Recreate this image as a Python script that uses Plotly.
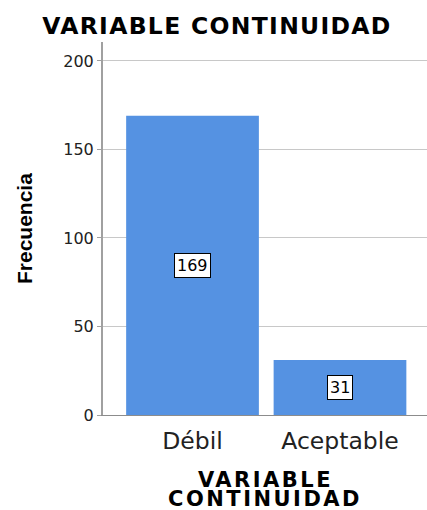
import plotly.graph_objects as go

categories = ["Débil", "Aceptable"]
frecuencias = [169, 31]
y_ticks = [0, 50, 100, 150, 200]
x_title_lines = ["VARIABLE", "CONTINUIDAD"]

bar_color = "#5592e2"
wide_font = "DejaVu Sans, Verdana, sans-serif"


def spaced_bold(text, spacing):
    return f'<span style="letter-spacing:{spacing}px"><b>{text}</b></span>'


fig = go.Figure()
fig.add_trace(go.Bar(
    x=list(range(len(categories))),
    y=frecuencias,
    marker=dict(color=bar_color, line=dict(width=0)),
    width=0.9,
    hoverinfo="skip",
))

# value boxes centred inside each bar
for i, v in enumerate(frecuencias):
    fig.add_annotation(
        x=i, y=v / 2, text=str(v), showarrow=False,
        font=dict(family=wide_font, size=16, color="black"),
        bgcolor="white", bordercolor="black", borderwidth=1, borderpad=2,
    )

# x axis title, one annotation per line for tight line spacing
for line, y_px in zip(x_title_lines, [480, 498.5]):
    fig.add_annotation(
        xref="paper", yref="paper", x=(265 - 103) / 324, y=(415 - y_px) / 373,
        xanchor="center", yanchor="middle", showarrow=False,
        text=spaced_bold(line, 2.5),
        font=dict(family=wide_font, size=21, color="black"),
    )

# y axis title
fig.add_annotation(
    xref="paper", yref="paper", x=(24 - 103) / 324, y=(415 - 229) / 373,
    xanchor="center", yanchor="middle", showarrow=False, textangle=-90,
    text="<b>Frecuencia</b>",
    font=dict(family="Liberation Sans, Arial", size=21, color="black"),
)

fig.update_layout(
    width=427, height=510,
    margin=dict(l=103, r=0, t=42, b=95),
    paper_bgcolor="white", plot_bgcolor="white",
    showlegend=False,
    title=dict(
        text=spaced_bold("VARIABLE CONTINUIDAD", 1.3),
        x=217 / 427, xanchor="center", y=1 - 26 / 510, yanchor="middle",
        font=dict(family=wide_font, size=23.5, color="black"),
    ),
    xaxis=dict(
        tickmode="array",
        tickvals=list(range(len(categories))),
        ticktext=categories,
        range=[-0.607, 1.59],
        showgrid=False,
        zeroline=False,
        showline=True, linecolor="#8c8c8c", linewidth=1,
        ticks="outside", ticklen=5, tickcolor="rgba(0,0,0,0)",
        tickfont=dict(family=wide_font, size=23.5, color="#222222"),
    ),
    yaxis=dict(
        range=[0, 210.7],
        tickmode="array",
        tickvals=y_ticks,
        showgrid=True, gridcolor="#c8c8c8", gridwidth=1,
        zeroline=False,
        showline=True, linecolor="#a0a0a0", linewidth=2,
        ticks="outside", ticklen=4, tickcolor="#a0a0a0",
        tickfont=dict(family=wide_font, size=16, color="#222222"),
    ),
)

fig.write_html("out.html")
